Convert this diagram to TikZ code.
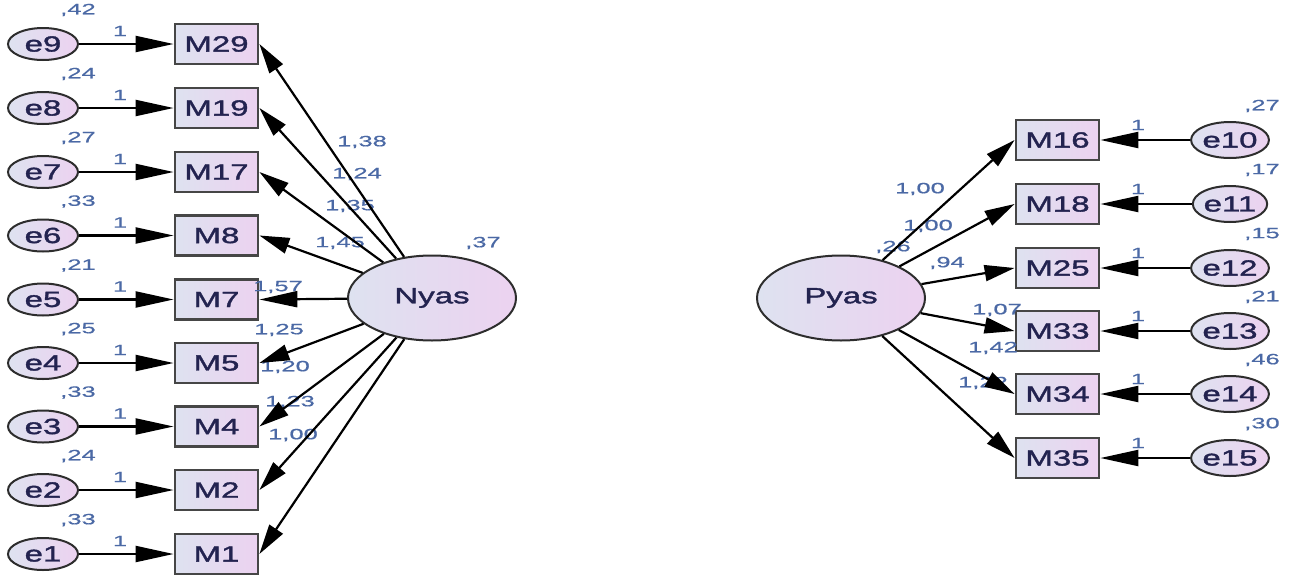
\documentclass[tikz,border=0pt]{standalone}
\usepackage{fontspec}
\setmainfont{Liberation Sans}
\newfontfamily\nfont[FakeStretch=1.5,FakeBold=1.6]{Liberation Sans}
\newfontfamily\lfont[FakeStretch=1.7,FakeBold=0.6]{Liberation Sans}
\usetikzlibrary{arrows.meta,shapes.geometric}
\definecolor{fillA}{RGB}{222,226,240}
\definecolor{fillB}{RGB}{236,210,240}
\definecolor{boxline}{RGB}{70,70,70}
\definecolor{ellline}{RGB}{45,45,45}
\definecolor{txt}{RGB}{35,35,80}
\definecolor{lab}{RGB}{75,105,165}
\begin{document}
\begin{tikzpicture}[x=1pt,y=1pt,
  nodetext/.style={font=\nfont\fontsize{22}{22}\selectfont, text=txt},
  obs/.style={rectangle, draw=boxline, line width=2.8pt, left color=fillA, right color=fillB,
    minimum width=83pt, minimum height=40pt, inner sep=0pt, nodetext},
  err/.style={ellipse, draw=ellline, line width=2pt, left color=fillA, right color=fillB,
    minimum width=70pt, minimum height=32pt, inner sep=0pt, nodetext},
  errr/.style={err, minimum height=36pt},
  lat/.style={ellipse, draw=ellline, line width=2pt, left color=fillA, right color=fillB,
    minimum width=168pt, minimum height=85pt, inner sep=0pt, nodetext},
  lbl/.style={font=\lfont\fontsize{15}{15}\selectfont, text=lab, inner sep=0pt},
  arr/.style={line width=2.2pt, -{Triangle[length=30pt,width=16pt]}},
  harr/.style={line width=2.2pt, -{Triangle[length=38pt,width=16pt]}},
]
\useasboundingbox (0,0) rectangle (1293,-581);

% latent variables
\node[lat] (Nyas) at (432,-298) {Nyas};
\node[lat] (Pyas) at (841,-298) {Pyas};
\node[lbl] (vNyas) at (483,-243) {,37};
\node[lbl] (vPyas) at (893,-247) {,26};

% left side indicators
\foreach \e/\m/\y/\v in {9/29/44/{,42}, 8/19/108/{,24}, 7/17/172/{,27}, 6/8/235.5/{,33},
    5/7/299.5/{,21}, 4/5/363/{,25}, 3/4/426.5/{,33}, 2/2/490/{,24}, 1/1/554/{,33}}{
  \node[err] (e\e) at (43,-\y) {e\e};
  \node[obs] (M\m) at (216.5,-\y) {M\m};
  \node[lbl] (ve\e) at (78,-\y+34) {\v};
  \node[lbl] (one\e) at (120,-\y+13) {1};
  \draw[harr] (e\e) -- (M\m);
}

% right side indicators
\foreach \e/\m/\y/\v in {10/16/140/{,27}, 11/18/204/{,17}, 12/25/268/{,15},
    13/33/331/{,21}, 14/34/394/{,46}, 15/35/458/{,30}}{
  \node[errr] (e\e) at (1230,-\y) {e\e};
  \node[obs] (M\m) at (1057.5,-\y) {M\m};
  \node[lbl] (ve\e) at (1262,-\y+34) {\v};
  \node[lbl] (one\e) at (1138,-\y+15) {1};
  \draw[harr] (e\e) -- (M\m);
}

% loading labels (Nyas)
\node[lbl] (l29) at (362,-142) {1,38};
\node[lbl] (l19) at (357,-174) {1,24};
\node[lbl] (l17) at (350,-206) {1,35};
\node[lbl] (l8)  at (340,-243) {1,45};
\node[lbl] (l7)  at (278,-287) {1,57};
\node[lbl] (l5)  at (279,-330) {1,25};
\node[lbl] (l4)  at (285,-367) {1,20};
\node[lbl] (l2)  at (290,-402) {1,23};
\node[lbl] (l1)  at (293,-435) {1,00};

% loading labels (Pyas)
\node[lbl] (l16) at (920,-189) {1,00};
\node[lbl] (l18) at (928,-226) {1,00};
\node[lbl] (l25) at (947,-263) {,94};
\node[lbl] (l33) at (997,-310) {1,07};
\node[lbl] (l34) at (993,-348) {1,42};
\node[lbl] (l35) at (983,-383) {1,22};

% loadings Nyas
\foreach \m in {29,19,17,8,5,4,2,1}{
  \draw[arr] (Nyas) -- (M\m.east);
}
\draw[harr] (Nyas) -- (M7.east);

% loadings Pyas
\foreach \m in {16,18,25,33,34,35}{
  \draw[arr] (Pyas) -- (M\m.west);
}
\end{tikzpicture}
\end{document}
